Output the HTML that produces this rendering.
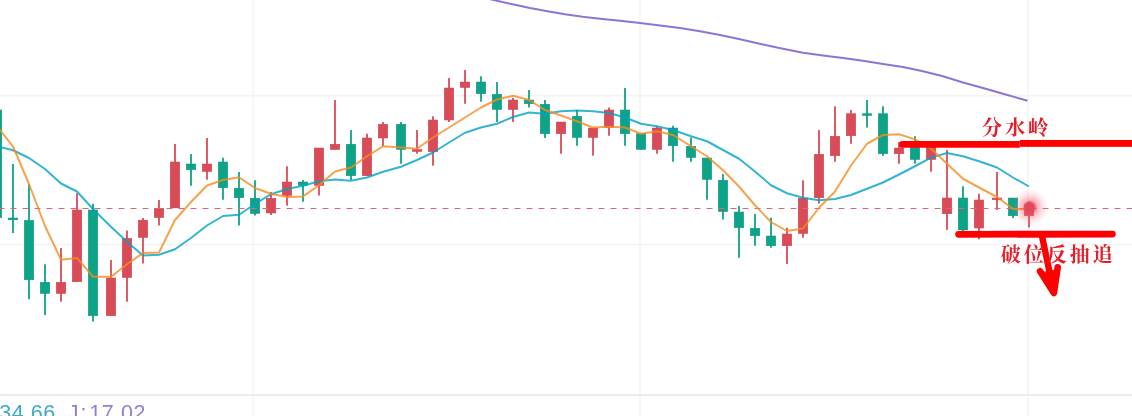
<!DOCTYPE html>
<html lang="zh-CN"><head><meta charset="utf-8"><title>K线图</title>
<style>
html,body{margin:0;padding:0;background:#fff;}
body{width:1132px;height:416px;overflow:hidden;position:relative;font-family:"Liberation Sans","Noto Sans CJK SC",sans-serif;}
svg{position:absolute;left:0;top:0;display:block}
.cn{font-family:"Liberation Serif","Noto Serif CJK SC",serif;font-weight:700;fill:#e51d28}
.num{font-family:"Liberation Sans",sans-serif;font-size:21.5px}
</style></head><body>
<svg width="1132" height="416" viewBox="0 0 1132 416">
<defs><radialGradient id="dot"><stop offset="0" stop-color="#e2475a" stop-opacity=".92"/><stop offset=".8" stop-color="#e2475a" stop-opacity=".88"/><stop offset="1" stop-color="#e6566a" stop-opacity=".35"/></radialGradient><radialGradient id="glow"><stop offset="0" stop-color="#e6455a" stop-opacity=".85"/><stop offset=".28" stop-color="#e6455a" stop-opacity=".75"/><stop offset=".4" stop-color="#ee5a6c" stop-opacity=".45"/><stop offset=".7" stop-color="#f27283" stop-opacity=".2"/><stop offset="1" stop-color="#f58a98" stop-opacity="0"/></radialGradient></defs>
<rect width="1132" height="416" fill="#fff"/>
<g stroke="#f4f4f4" stroke-width="1.7">
<line x1="253.3" y1="0" x2="253.3" y2="416" stroke="#f5f5f5"/><line x1="640" y1="0" x2="640" y2="416" stroke="#f5f5f5"/><line x1="1027.8" y1="0" x2="1027.8" y2="416" stroke="#f5f5f5"/>
<line x1="0" y1="95.7" x2="1132" y2="95.7"/><line x1="0" y1="244.5" x2="1132" y2="244.5"/>
</g>
<line x1="0" y1="394.9" x2="1132" y2="394.9" stroke="#ececec" stroke-width="2"/>

<g>
<line x1="-3" y1="110" x2="-3" y2="217.6" stroke="#0CA388" stroke-width="1.8"/>
<rect x="-7.75" y="110" width="9.5" height="107.6" fill="#0CA388" stroke="#129680" stroke-width=".5"/>
<line x1="13" y1="164" x2="13" y2="233" stroke="#0CA388" stroke-width="1.8"/>
<rect x="8.25" y="218" width="9.5" height="1.8" fill="#0CA388" stroke="#129680" stroke-width=".5"/>
<line x1="29" y1="184" x2="29" y2="299.25" stroke="#0CA388" stroke-width="1.8"/>
<rect x="24.25" y="220.3" width="9.5" height="59.45" fill="#0CA388" stroke="#129680" stroke-width=".5"/>
<line x1="45" y1="264.25" x2="45" y2="315" stroke="#0CA388" stroke-width="1.8"/>
<rect x="40.25" y="282.25" width="9.5" height="11.25" fill="#0CA388" stroke="#129680" stroke-width=".5"/>
<line x1="61" y1="248" x2="61" y2="301.75" stroke="#DA4B58" stroke-width="1.8"/>
<rect x="56.25" y="282.25" width="9.5" height="11.25" fill="#DA4B58" stroke="#C94452" stroke-width=".5"/>
<line x1="77" y1="193.25" x2="77" y2="281.75" stroke="#DA4B58" stroke-width="1.8"/>
<rect x="72.25" y="210" width="9.5" height="71.75" fill="#DA4B58" stroke="#C94452" stroke-width=".5"/>
<line x1="93" y1="203.85" x2="93" y2="321.5" stroke="#0CA388" stroke-width="1.8"/>
<rect x="88.25" y="210" width="9.5" height="105.75" fill="#0CA388" stroke="#129680" stroke-width=".5"/>
<line x1="111" y1="260" x2="111" y2="315.75" stroke="#DA4B58" stroke-width="1.8"/>
<rect x="106.25" y="278" width="9.5" height="37.75" fill="#DA4B58" stroke="#C94452" stroke-width=".5"/>
<line x1="127" y1="230.5" x2="127" y2="301.75" stroke="#DA4B58" stroke-width="1.8"/>
<rect x="122.25" y="238.4" width="9.5" height="39.1" fill="#DA4B58" stroke="#C94452" stroke-width=".5"/>
<line x1="143" y1="218" x2="143" y2="263.5" stroke="#DA4B58" stroke-width="1.8"/>
<rect x="138.25" y="220.2" width="9.5" height="17.3" fill="#DA4B58" stroke="#C94452" stroke-width=".5"/>
<line x1="159" y1="200" x2="159" y2="225.6" stroke="#DA4B58" stroke-width="1.8"/>
<rect x="154.25" y="208.3" width="9.5" height="9.3" fill="#DA4B58" stroke="#C94452" stroke-width=".5"/>
<line x1="175" y1="144" x2="175" y2="207.9" stroke="#DA4B58" stroke-width="1.8"/>
<rect x="170.25" y="162" width="9.5" height="45.9" fill="#DA4B58" stroke="#C94452" stroke-width=".5"/>
<line x1="191" y1="154" x2="191" y2="185.75" stroke="#0CA388" stroke-width="1.8"/>
<rect x="186.25" y="164" width="9.5" height="5.75" fill="#0CA388" stroke="#129680" stroke-width=".5"/>
<line x1="207" y1="138" x2="207" y2="179.75" stroke="#DA4B58" stroke-width="1.8"/>
<rect x="202.25" y="164" width="9.5" height="7.5" fill="#DA4B58" stroke="#C94452" stroke-width=".5"/>
<line x1="223" y1="157.75" x2="223" y2="199.75" stroke="#0CA388" stroke-width="1.8"/>
<rect x="218.25" y="162" width="9.5" height="25.75" fill="#0CA388" stroke="#129680" stroke-width=".5"/>
<line x1="239" y1="172" x2="239" y2="225.5" stroke="#0CA388" stroke-width="1.8"/>
<rect x="234.25" y="188.25" width="9.5" height="9.5" fill="#0CA388" stroke="#129680" stroke-width=".5"/>
<line x1="255" y1="180.25" x2="255" y2="215.5" stroke="#0CA388" stroke-width="1.8"/>
<rect x="250.25" y="198.25" width="9.5" height="15.25" fill="#0CA388" stroke="#129680" stroke-width=".5"/>
<line x1="271" y1="192" x2="271" y2="215" stroke="#DA4B58" stroke-width="1.8"/>
<rect x="266.25" y="198.25" width="9.5" height="14.75" fill="#DA4B58" stroke="#C94452" stroke-width=".5"/>
<line x1="287" y1="166.25" x2="287" y2="205.75" stroke="#DA4B58" stroke-width="1.8"/>
<rect x="282.25" y="182" width="9.5" height="13.5" fill="#DA4B58" stroke="#C94452" stroke-width=".5"/>
<line x1="303" y1="180" x2="303" y2="201.75" stroke="#0CA388" stroke-width="1.8"/>
<rect x="298.25" y="182" width="9.5" height="3.5" fill="#0CA388" stroke="#129680" stroke-width=".5"/>
<line x1="319" y1="148" x2="319" y2="195.5" stroke="#DA4B58" stroke-width="1.8"/>
<rect x="314.25" y="148" width="9.5" height="37.5" fill="#DA4B58" stroke="#C94452" stroke-width=".5"/>
<line x1="335" y1="100" x2="335" y2="149.5" stroke="#DA4B58" stroke-width="1.8"/>
<rect x="330.25" y="144.25" width="9.5" height="5.25" fill="#DA4B58" stroke="#C94452" stroke-width=".5"/>
<line x1="351" y1="130" x2="351" y2="180" stroke="#0CA388" stroke-width="1.8"/>
<rect x="346.25" y="144.25" width="9.5" height="31.5" fill="#0CA388" stroke="#129680" stroke-width=".5"/>
<line x1="367" y1="133.75" x2="367" y2="175.75" stroke="#DA4B58" stroke-width="1.8"/>
<rect x="362.25" y="138" width="9.5" height="37.75" fill="#DA4B58" stroke="#C94452" stroke-width=".5"/>
<line x1="383" y1="122" x2="383" y2="146" stroke="#DA4B58" stroke-width="1.8"/>
<rect x="378.25" y="124.25" width="9.5" height="13.75" fill="#DA4B58" stroke="#C94452" stroke-width=".5"/>
<line x1="401" y1="122" x2="401" y2="163.75" stroke="#0CA388" stroke-width="1.8"/>
<rect x="396.25" y="124.25" width="9.5" height="25.25" fill="#0CA388" stroke="#129680" stroke-width=".5"/>
<line x1="417" y1="130" x2="417" y2="153.75" stroke="#DA4B58" stroke-width="1.8"/>
<rect x="412.25" y="149.5" width="9.5" height="2" fill="#DA4B58" stroke="#C94452" stroke-width=".5"/>
<line x1="433" y1="116.25" x2="433" y2="165.75" stroke="#DA4B58" stroke-width="1.8"/>
<rect x="428.25" y="120" width="9.5" height="31.75" fill="#DA4B58" stroke="#C94452" stroke-width=".5"/>
<line x1="449" y1="78" x2="449" y2="122" stroke="#DA4B58" stroke-width="1.8"/>
<rect x="444.25" y="88" width="9.5" height="32" fill="#DA4B58" stroke="#C94452" stroke-width=".5"/>
<line x1="465" y1="70" x2="465" y2="103.75" stroke="#DA4B58" stroke-width="1.8"/>
<rect x="460.25" y="82" width="9.5" height="5.5" fill="#DA4B58" stroke="#C94452" stroke-width=".5"/>
<line x1="481" y1="76.25" x2="481" y2="101.75" stroke="#0CA388" stroke-width="1.8"/>
<rect x="476.25" y="82" width="9.5" height="11.75" fill="#0CA388" stroke="#129680" stroke-width=".5"/>
<line x1="497" y1="82" x2="497" y2="122" stroke="#0CA388" stroke-width="1.8"/>
<rect x="492.25" y="94.25" width="9.5" height="15.25" fill="#0CA388" stroke="#129680" stroke-width=".5"/>
<line x1="513" y1="98" x2="513" y2="122" stroke="#DA4B58" stroke-width="1.8"/>
<rect x="508.25" y="100" width="9.5" height="9.5" fill="#DA4B58" stroke="#C94452" stroke-width=".5"/>
<line x1="529" y1="90" x2="529" y2="107.5" stroke="#0CA388" stroke-width="1.8"/>
<rect x="524.25" y="100" width="9.5" height="3.75" fill="#0CA388" stroke="#129680" stroke-width=".5"/>
<line x1="545" y1="100" x2="545" y2="138" stroke="#0CA388" stroke-width="1.8"/>
<rect x="540.25" y="104.25" width="9.5" height="29.5" fill="#0CA388" stroke="#129680" stroke-width=".5"/>
<line x1="561" y1="122" x2="561" y2="153.75" stroke="#DA4B58" stroke-width="1.8"/>
<rect x="556.25" y="122" width="9.5" height="11.75" fill="#DA4B58" stroke="#C94452" stroke-width=".5"/>
<line x1="577" y1="110" x2="577" y2="145.75" stroke="#0CA388" stroke-width="1.8"/>
<rect x="572.25" y="116.25" width="9.5" height="21.25" fill="#0CA388" stroke="#129680" stroke-width=".5"/>
<line x1="593" y1="128" x2="593" y2="155.75" stroke="#DA4B58" stroke-width="1.8"/>
<rect x="588.25" y="128" width="9.5" height="9.5" fill="#DA4B58" stroke="#C94452" stroke-width=".5"/>
<line x1="609" y1="107.5" x2="609" y2="135.75" stroke="#DA4B58" stroke-width="1.8"/>
<rect x="604.25" y="110" width="9.5" height="17.5" fill="#DA4B58" stroke="#C94452" stroke-width=".5"/>
<line x1="625" y1="88" x2="625" y2="145.75" stroke="#0CA388" stroke-width="1.8"/>
<rect x="620.25" y="110" width="9.5" height="23.75" fill="#0CA388" stroke="#129680" stroke-width=".5"/>
<line x1="641" y1="133.75" x2="641" y2="149.5" stroke="#0CA388" stroke-width="1.8"/>
<rect x="636.25" y="133.75" width="9.5" height="15.75" fill="#0CA388" stroke="#129680" stroke-width=".5"/>
<line x1="657" y1="126.25" x2="657" y2="153.75" stroke="#DA4B58" stroke-width="1.8"/>
<rect x="652.25" y="128" width="9.5" height="21.5" fill="#DA4B58" stroke="#C94452" stroke-width=".5"/>
<line x1="673" y1="125.75" x2="673" y2="161.75" stroke="#0CA388" stroke-width="1.8"/>
<rect x="668.25" y="128" width="9.5" height="17.75" fill="#0CA388" stroke="#129680" stroke-width=".5"/>
<line x1="691" y1="137.5" x2="691" y2="161.75" stroke="#0CA388" stroke-width="1.8"/>
<rect x="686.25" y="146.25" width="9.5" height="11.25" fill="#0CA388" stroke="#129680" stroke-width=".5"/>
<line x1="707" y1="158" x2="707" y2="199.75" stroke="#0CA388" stroke-width="1.8"/>
<rect x="702.25" y="158" width="9.5" height="21.5" fill="#0CA388" stroke="#129680" stroke-width=".5"/>
<line x1="723" y1="174" x2="723" y2="219.5" stroke="#0CA388" stroke-width="1.8"/>
<rect x="718.25" y="180.25" width="9.5" height="31.25" fill="#0CA388" stroke="#129680" stroke-width=".5"/>
<line x1="739" y1="206" x2="739" y2="257.75" stroke="#0CA388" stroke-width="1.8"/>
<rect x="734.25" y="212" width="9.5" height="15.75" fill="#0CA388" stroke="#129680" stroke-width=".5"/>
<line x1="755" y1="214" x2="755" y2="245.75" stroke="#0CA388" stroke-width="1.8"/>
<rect x="750.25" y="228.25" width="9.5" height="7.5" fill="#0CA388" stroke="#129680" stroke-width=".5"/>
<line x1="771" y1="217.75" x2="771" y2="247.75" stroke="#0CA388" stroke-width="1.8"/>
<rect x="766.25" y="236" width="9.5" height="9.75" fill="#0CA388" stroke="#129680" stroke-width=".5"/>
<line x1="787" y1="227.75" x2="787" y2="264" stroke="#DA4B58" stroke-width="1.8"/>
<rect x="782.25" y="234" width="9.5" height="11.75" fill="#DA4B58" stroke="#C94452" stroke-width=".5"/>
<line x1="803" y1="180.25" x2="803" y2="237.75" stroke="#DA4B58" stroke-width="1.8"/>
<rect x="798.25" y="198.25" width="9.5" height="35.25" fill="#DA4B58" stroke="#C94452" stroke-width=".5"/>
<line x1="819" y1="130" x2="819" y2="203.5" stroke="#DA4B58" stroke-width="1.8"/>
<rect x="814.25" y="154.25" width="9.5" height="43.5" fill="#DA4B58" stroke="#C94452" stroke-width=".5"/>
<line x1="835" y1="106.25" x2="835" y2="161.75" stroke="#DA4B58" stroke-width="1.8"/>
<rect x="830.25" y="136.25" width="9.5" height="19.5" fill="#DA4B58" stroke="#C94452" stroke-width=".5"/>
<line x1="851" y1="110" x2="851" y2="143.75" stroke="#DA4B58" stroke-width="1.8"/>
<rect x="846.25" y="113.75" width="9.5" height="22" fill="#DA4B58" stroke="#C94452" stroke-width=".5"/>
<line x1="867" y1="100" x2="867" y2="127.5" stroke="#0CA388" stroke-width="1.8"/>
<rect x="862.25" y="113.75" width="9.5" height="1.75" fill="#0CA388" stroke="#129680" stroke-width=".5"/>
<line x1="883" y1="106.25" x2="883" y2="155.75" stroke="#0CA388" stroke-width="1.8"/>
<rect x="878.25" y="113.75" width="9.5" height="40" fill="#0CA388" stroke="#129680" stroke-width=".5"/>
<line x1="899" y1="142" x2="899" y2="163.75" stroke="#DA4B58" stroke-width="1.8"/>
<rect x="894.25" y="148" width="9.5" height="5.75" fill="#DA4B58" stroke="#C94452" stroke-width=".5"/>
<line x1="915" y1="136.25" x2="915" y2="163.75" stroke="#0CA388" stroke-width="1.8"/>
<rect x="910.25" y="146" width="9.5" height="13.5" fill="#0CA388" stroke="#129680" stroke-width=".5"/>
<line x1="931" y1="146" x2="931" y2="171.75" stroke="#DA4B58" stroke-width="1.8"/>
<rect x="926.25" y="146" width="9.5" height="13.5" fill="#DA4B58" stroke="#C94452" stroke-width=".5"/>
<line x1="947" y1="150" x2="947" y2="230" stroke="#DA4B58" stroke-width="1.8"/>
<rect x="942.25" y="198" width="9.5" height="15.75" fill="#DA4B58" stroke="#C94452" stroke-width=".5"/>
<line x1="963" y1="186.25" x2="963" y2="231" stroke="#0CA388" stroke-width="1.8"/>
<rect x="958.25" y="198" width="9.5" height="32" fill="#0CA388" stroke="#129680" stroke-width=".5"/>
<line x1="979" y1="193.75" x2="979" y2="239.25" stroke="#DA4B58" stroke-width="1.8"/>
<rect x="974.25" y="200" width="9.5" height="28" fill="#DA4B58" stroke="#C94452" stroke-width=".5"/>
<line x1="997" y1="172" x2="997" y2="210" stroke="#DA4B58" stroke-width="1.8"/>
<rect x="992.25" y="198" width="9.5" height="1.8" fill="#DA4B58" stroke="#C94452" stroke-width=".5"/>
<line x1="1013" y1="198" x2="1013" y2="218" stroke="#0CA388" stroke-width="1.8"/>
<rect x="1008.25" y="198" width="9.5" height="17.75" fill="#0CA388" stroke="#129680" stroke-width=".5"/>
<line x1="1029" y1="201.5" x2="1029" y2="227.6" stroke="#DA4B58" stroke-width="1.8"/>
<rect x="1024.25" y="204.8" width="9.5" height="10.9" fill="#DA4B58" stroke="#C94452" stroke-width=".5"/>
</g>
<line x1="-1.5" y1="208.5" x2="1132" y2="208.5" stroke="#dc6675" stroke-width="1.1" stroke-dasharray="6 6"/>
<polyline points="476,-4 493.75,0 512.5,4.25 530,8 547.5,11.25 565,14.25 582.5,16.75 600,18.75 620,20.75 640,23 660,25.5 680,28 700,31.25 720,35 740,39.25 763,44.5 783,48.75 803,52.75 823,55.5 843,58 863,60.75 883,64 903,67 923,71.25 943,76.25 963,82.5 983,88 1003,93.75 1027.5,100.75" fill="none" stroke="#8e74d6" stroke-width="1.9" stroke-linejoin="round"/>
<polyline points="-3,146.3 13,150.25 29,158 45,169 61,183.5 77,191.5 93,209 111,226.75 127,241.75 143,255.5 159,254.75 175,249.25 191,238 207,225.5 223,216 239,214.75 255,204 271,194.2 287,189 303,185.7 319,181.25 335,179.5 351,180.75 367,177.5 383,171.75 401,166.75 417,160 433,152.5 449,142.5 465,132.75 481,127.5 497,123.75 513,117 529,112.5 545,113.75 561,111.25 577,110.5 593,111.25 609,113 625,117.5 641,123.75 657,126.25 673,130 691,136.25 707,141.25 723,150 739,158.75 755,171.5 771,185.25 787,193.25 803,197.75 819,200.25 835,199 851,195 867,188.75 883,182.5 899,174.5 915,166.25 931,157.6 947,153 963,156.25 979,161.25 997,167.5 1013,177.5 1029,186.5" fill="none" stroke="#00a1c8" stroke-opacity=".8" stroke-width="2" stroke-linejoin="round"/>
<polyline points="-3,126.3 13,146.5 29,184 45,226 61,259.75 77,258 93,276.7 111,276.7 127,264.25 143,253 159,252.5 175,220 191,202 207,185.5 223,180 239,177.25 255,188 271,193.8 287,196.9 303,196.4 319,185.3 335,171.5 351,167.5 367,156.25 383,146.25 401,147.5 417,148.75 433,137.5 449,127.5 465,117.5 481,107.5 497,99.5 513,95.75 529,100 545,110 561,115.5 577,121.25 593,127.5 609,126.75 625,127.5 641,133.75 657,131.25 673,135 691,146.25 707,156.25 723,170.25 739,186.5 755,205.25 771,222 787,231 803,228.5 819,207.75 835,191.5 851,165.5 867,143.75 883,135 899,134.25 915,139.4 931,148.5 947,163.75 963,178.75 979,187.5 997,197 1013,208.75 1029,209.5" fill="none" stroke="#f58b1f" stroke-opacity=".8" stroke-width="2" stroke-linejoin="round"/>
<circle cx="1030.2" cy="207.4" r="18.5" fill="url(#glow)"/><circle cx="1029.2" cy="207.3" r="5.8" fill="url(#dot)"/>
<g stroke="#fe0000" fill="none" stroke-linecap="round" stroke-linejoin="round">
<path d="M902,141 H1019.8 V147.85 H902 Q899.1,147.6 899.1,144.4 Q899.1,141.2 902,141 Z" fill="#fe0000" stroke="none"/>
<rect x="1019.8" y="139.95" width="113" height="6.9" fill="#fe0000" stroke="none"/>
<line x1="958.6" y1="234.3" x2="1112.4" y2="234.1" stroke-width="6.8"/>
<line x1="1042" y1="236" x2="1052.5" y2="286" stroke-width="6.4"/>
<path d="M1040.1,271.3 L1053.9,293 L1057.7,267.3" stroke-width="6.6"/>
<path d="M1042,273 L1054,291 L1056.5,270 Z" stroke-width="1" fill="#fe0000"/>
</g>
<text class="cn" x="981.8" y="135.2" font-size="20.4" letter-spacing="2.7">分水岭</text>
<text class="cn" x="1000.8" y="261.6" font-size="20" letter-spacing="3">破位反抽追</text>
<text class="num" x="55.6" y="419.7" text-anchor="end" letter-spacing=".5" fill="#3caac8">34.66</text>
<text class="num" x="67.8" y="419.7" fill="#967dd2">J</text><text class="num" x="80.4" y="419.7" fill="#967dd2">:</text><text class="num" x="146" y="419.7" text-anchor="end" letter-spacing=".6" fill="#967dd2">17.02</text>
</svg>
</body></html>
